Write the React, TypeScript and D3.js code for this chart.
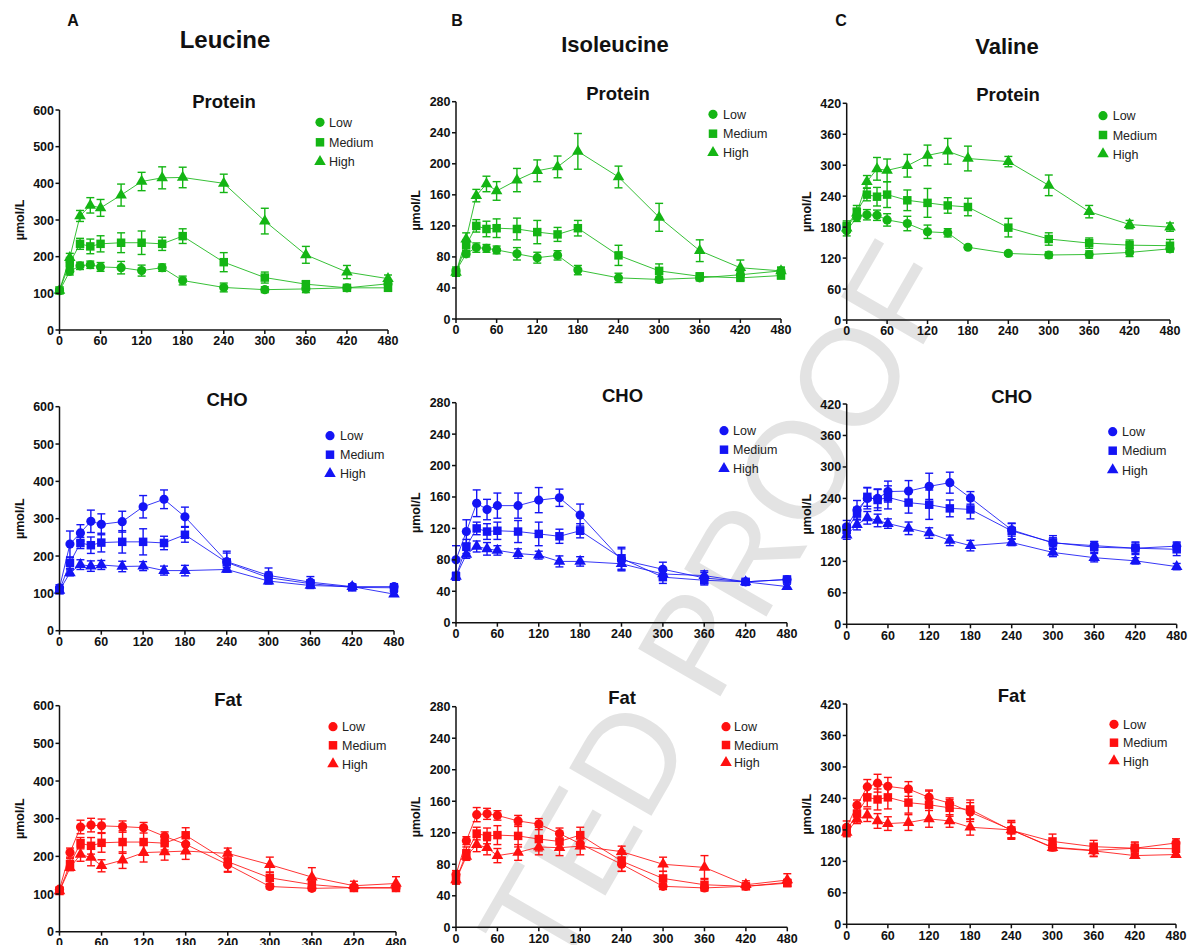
import React from 'react';
import * as d3 from 'd3';

// ---------- data ----------
const times = [0, 15, 30, 45, 60, 90, 120, 150, 180, 240, 300, 360, 420, 480];
const xTicks = [0, 60, 120, 180, 240, 300, 360, 420, 480];
const yTicksLeu = [0, 100, 200, 300, 400, 500, 600];
const yTicksIle = [0, 40, 80, 120, 160, 200, 240, 280];
const yTicksVal = [0, 60, 120, 180, 240, 300, 360, 420];
const seriesNames = ['Low', 'Medium', 'High'];
const aminoAcids = ['Leucine', 'Isoleucine', 'Valine'];
const panelLetters = ['A', 'B', 'C'];
const meals = ['Protein', 'CHO', 'Fat'];

// Leucine - Protein
const leuProLow = [107, 160, 175, 178, 172, 170, 162, 170, 135, 116, 110, 112, 115, 126];
const leuProLowErr = [5, 10, 10, 10, 12, 17, 15, 10, 12, 12, 8, 10, 5, 8];
const leuProMed = [108, 183, 235, 228, 235, 238, 238, 235, 256, 185, 143, 125, 115, 115];
const leuProMedErr = [5, 15, 15, 20, 22, 27, 32, 18, 20, 26, 15, 8, 6, 6];
const leuProHigh = [108, 197, 311, 340, 333, 368, 405, 415, 416, 400, 297, 205, 158, 140];
const leuProHighErr = [5, 12, 15, 21, 23, 30, 25, 30, 28, 25, 35, 23, 18, 10];

// Isoleucine - Protein
const ileProLow = [62, 84, 92, 91, 89, 84, 79, 82, 63, 53, 51, 53, 57, 62];
const ileProLowErr = [5, 4, 6, 5, 5, 8, 7, 6, 6, 6, 4, 4, 4, 4];
const ileProMed = [60, 95, 120, 116, 117, 116, 112, 109, 117, 82, 62, 55, 53, 56];
const ileProMedErr = [5, 7, 8, 10, 12, 14, 15, 9, 10, 13, 9, 4, 3, 4];
const ileProHigh = [60, 103, 159, 174, 165, 179, 191, 196, 216, 183, 131, 88, 66, 62];
const ileProHighErr = [5, 8, 8, 10, 12, 15, 14, 14, 23, 14, 18, 14, 10, 5];

// Valine - Protein
const valProLow = [173, 199, 204, 203, 194, 187, 171, 169, 141, 129, 126, 127, 131, 138];
const valProLowErr = [10, 8, 10, 10, 12, 14, 13, 8, 3, 3, 6, 7, 8, 6];
const valProMed = [182, 210, 243, 239, 243, 232, 227, 222, 219, 179, 157, 149, 145, 144];
const valProMedErr = [10, 12, 12, 18, 25, 20, 28, 15, 17, 18, 12, 10, 10, 12];
const valProHigh = [178, 207, 268, 293, 290, 299, 319, 327, 313, 307, 261, 210, 185, 180];
const valProHighErr = [8, 8, 12, 22, 22, 22, 20, 25, 24, 10, 20, 12, 8, 8];

// Leucine - CHO
const leuChoLow = [115, 232, 262, 293, 285, 292, 332, 352, 305, 185, 148, 130, 118, 118];
const leuChoLowErr = [8, 35, 22, 30, 28, 28, 30, 25, 26, 28, 20, 15, 6, 8];
const leuChoMed = [108, 182, 235, 229, 236, 238, 238, 235, 257, 183, 142, 126, 116, 115];
const leuChoMedErr = [5, 15, 15, 22, 25, 30, 35, 18, 20, 25, 15, 10, 5, 7];
const leuChoHigh = [108, 155, 177, 173, 176, 172, 173, 161, 161, 164, 133, 121, 118, 98];
const leuChoHighErr = [5, 8, 13, 14, 12, 14, 12, 12, 14, 5, 8, 8, 4, 5];

// Isoleucine - CHO
const ileChoLow = [80, 116, 152, 144, 149, 149, 156, 159, 137, 80, 68, 57, 52, 55];
const ileChoLowErr = [18, 15, 17, 13, 16, 16, 16, 11, 14, 14, 9, 7, 3, 3];
const ileChoMed = [59, 97, 120, 116, 117, 116, 113, 110, 117, 82, 58, 54, 52, 55];
const ileChoMedErr = [5, 9, 8, 10, 11, 14, 15, 9, 9, 14, 8, 6, 3, 4];
const ileChoHigh = [59, 87, 97, 94, 92, 88, 86, 78, 78, 75, 62, 60, 52, 46];
const ileChoHighErr = [5, 5, 7, 8, 6, 6, 5, 7, 6, 8, 6, 6, 3, 3];

// Valine - CHO
const valChoLow = [186, 218, 240, 240, 253, 254, 263, 270, 241, 180, 155, 150, 145, 149];
const valChoLowErr = [12, 18, 20, 18, 20, 20, 25, 20, 12, 12, 10, 8, 10, 8];
const valChoMed = [180, 211, 243, 237, 242, 232, 228, 221, 219, 178, 156, 147, 145, 143];
const valChoMedErr = [10, 12, 18, 20, 22, 20, 28, 16, 18, 15, 13, 10, 12, 12];
const valChoHigh = [170, 190, 203, 198, 192, 183, 174, 160, 150, 156, 137, 127, 121, 110];
const valChoHighErr = [8, 10, 12, 12, 9, 12, 10, 10, 10, 6, 8, 8, 6, 6];

// Leucine - Fat
const leuFatLow = [113, 210, 278, 283, 281, 279, 276, 253, 232, 178, 120, 115, 117, 117];
const leuFatLowErr = [6, 12, 18, 18, 18, 15, 14, 12, 20, 20, 6, 6, 4, 5];
const leuFatMed = [108, 180, 235, 228, 236, 238, 238, 235, 256, 186, 143, 125, 116, 116];
const leuFatMedErr = [5, 15, 15, 22, 25, 30, 35, 18, 20, 26, 15, 10, 6, 8];
const leuFatHigh = [108, 170, 205, 197, 175, 190, 210, 212, 214, 208, 178, 145, 122, 128];
const leuFatHighErr = [5, 8, 18, 22, 16, 22, 25, 22, 22, 14, 20, 25, 12, 18];

// Isoleucine - Fat
const ileFatLow = [67, 110, 143, 144, 142, 135, 131, 119, 106, 80, 52, 50, 52, 57];
const ileFatLowErr = [5, 5, 9, 7, 6, 7, 7, 7, 6, 9, 4, 3, 3, 4];
const ileFatMed = [60, 94, 119, 116, 117, 116, 112, 109, 117, 84, 62, 54, 52, 56];
const ileFatMedErr = [5, 8, 8, 10, 12, 14, 15, 9, 10, 13, 9, 8, 3, 4];
const ileFatHigh = [60, 90, 105, 101, 91, 95, 102, 101, 103, 96, 80, 76, 54, 60];
const ileFatHighErr = [5, 5, 9, 9, 9, 10, 10, 10, 11, 7, 9, 15, 5, 8];

// Valine - Fat
const valFatLow = [185, 227, 262, 269, 263, 258, 242, 231, 214, 180, 147, 141, 145, 155];
const valFatLowErr = [12, 10, 14, 17, 17, 14, 12, 10, 18, 15, 6, 12, 10, 8];
const valFatMed = [179, 211, 242, 238, 242, 232, 228, 222, 219, 179, 158, 148, 145, 144];
const valFatMedErr = [10, 12, 18, 20, 22, 20, 28, 16, 18, 15, 14, 12, 12, 12];
const valFatHigh = [175, 200, 208, 197, 192, 194, 201, 197, 185, 180, 146, 140, 131, 133];
const valFatHighErr = [8, 8, 12, 14, 13, 15, 16, 12, 15, 18, 6, 10, 5, 5];

// ---------- styling / layout ----------
const FONT = "'Liberation Sans', Arial, Helvetica, sans-serif";
const GREEN = '#14b514';
const BLUE = '#1414f5';
const RED = '#ff1010';

type PanelDef = {
  title: string;
  color: string;
  yTicks: number[];
  means: number[][];
  errs: number[][];
  x0: number; x1: number; y0: number; y1: number;
  titleX: number; titleY: number;
  legX: number; legTextX: number; legY: number[];
};

const colColors = [GREEN, BLUE, RED];
const colTicks = [yTicksLeu, yTicksIle, yTicksVal];

const panels: PanelDef[] = [
  // Row 1 - Protein
  { title: meals[0], color: colColors[0], yTicks: colTicks[0],
    means: [leuProLow, leuProMed, leuProHigh], errs: [leuProLowErr, leuProMedErr, leuProHighErr],
    x0: 59.5, x1: 388, y0: 330, y1: 110, titleX: 224, titleY: 108,
    legX: 320, legTextX: 329, legY: [122.3, 142.3, 161.7] },
  { title: meals[0], color: colColors[0], yTicks: colTicks[1],
    means: [ileProLow, ileProMed, ileProHigh], errs: [ileProLowErr, ileProMedErr, ileProHighErr],
    x0: 456, x1: 781, y0: 319, y1: 101.7, titleX: 618, titleY: 100,
    legX: 713, legTextX: 723, legY: [114.3, 133.7, 152.7] },
  { title: meals[0], color: colColors[0], yTicks: colTicks[2],
    means: [valProLow, valProMed, valProHigh], errs: [valProLowErr, valProMedErr, valProHighErr],
    x0: 846.7, x1: 1170, y0: 320, y1: 103.3, titleX: 1008, titleY: 101,
    legX: 1103, legTextX: 1112.7, legY: [115.7, 135, 154] },
  // Row 2 - CHO
  { title: meals[1], color: colColors[1], yTicks: colTicks[0],
    means: [leuChoLow, leuChoMed, leuChoHigh], errs: [leuChoLowErr, leuChoMedErr, leuChoHighErr],
    x0: 59.5, x1: 394, y0: 630.7, y1: 406.7, titleX: 227, titleY: 406,
    legX: 330, legTextX: 340, legY: [435.7, 454.7, 473.7] },
  { title: meals[1], color: colColors[1], yTicks: colTicks[1],
    means: [ileChoLow, ileChoMed, ileChoHigh], errs: [ileChoLowErr, ileChoMedErr, ileChoHighErr],
    x0: 456, x1: 787, y0: 622.7, y1: 402.7, titleX: 622.5, titleY: 401.7,
    legX: 724, legTextX: 733, legY: [430.7, 449.7, 468.7] },
  { title: meals[1], color: colColors[1], yTicks: colTicks[2],
    means: [valChoLow, valChoMed, valChoHigh], errs: [valChoLowErr, valChoMedErr, valChoHighErr],
    x0: 846.7, x1: 1176.7, y0: 624.3, y1: 404, titleX: 1011.7, titleY: 402.7,
    legX: 1112.7, legTextX: 1122, legY: [431.7, 450.7, 470] },
  // Row 3 - Fat
  { title: meals[2], color: colColors[2], yTicks: colTicks[0],
    means: [leuFatLow, leuFatMed, leuFatHigh], errs: [leuFatLowErr, leuFatMedErr, leuFatHighErr],
    x0: 59.5, x1: 396, y0: 931.7, y1: 705.7, titleX: 228, titleY: 705.7,
    legX: 333, legTextX: 342, legY: [726.7, 745.3, 764] },
  { title: meals[2], color: colColors[2], yTicks: colTicks[1],
    means: [ileFatLow, ileFatMed, ileFatHigh], errs: [ileFatLowErr, ileFatMedErr, ileFatHighErr],
    x0: 456, x1: 787.3, y0: 927.3, y1: 706.7, titleX: 622, titleY: 704.3,
    legX: 726, legTextX: 734, legY: [726.7, 745, 762.7] },
  { title: meals[2], color: colColors[2], yTicks: colTicks[2],
    means: [valFatLow, valFatMed, valFatHigh], errs: [valFatLowErr, valFatMedErr, valFatHighErr],
    x0: 846.7, x1: 1176, y0: 924.3, y1: 704, titleX: 1011.7, titleY: 701.7,
    legX: 1114, legTextX: 1123, legY: [724.3, 742.7, 761] },
];

const symbolTypes = [d3.symbolCircle, d3.symbolSquare, d3.symbolTriangle];
const symbolSizes = [66, 72, 58];

function Marker({ cx, cy, kind, color }: { cx: number; cy: number; kind: number; color: string }) {
  const path = d3.symbol().type(symbolTypes[kind]).size(symbolSizes[kind])() || '';
  return <path d={path} transform={`translate(${cx},${cy})`} fill={color} />;
}

function Panel({ p }: { p: PanelDef }) {
  const yMax = p.yTicks[p.yTicks.length - 1];
  const x = d3.scaleLinear().domain([0, 480]).range([p.x0, p.x1]);
  const y = d3.scaleLinear().domain([0, yMax]).range([p.y0, p.y1]);
  const line = d3.line<number>().x((_, i) => x(times[i])).y((v) => y(v));
  const cap = 4;
  return (
    <g>
      {/* lines */}
      {p.means.map((m, si) => (
        <path key={'l' + si} d={line(m) || ''} fill="none" stroke={p.color} strokeWidth={1} strokeOpacity={0.85} />
      ))}
      {/* error bars */}
      {p.means.map((m, si) => (
        <g key={'e' + si} stroke={p.color} strokeWidth={1.4}>
          {m.map((v, i) => {
            const e = p.errs[si][i];
            const xx = x(times[i]);
            const yt = y(v + e);
            const yb = y(v - e);
            return (
              <g key={i}>
                <line x1={xx} x2={xx} y1={yt} y2={yb} />
                <line x1={xx - cap} x2={xx + cap} y1={yt} y2={yt} />
                <line x1={xx - cap} x2={xx + cap} y1={yb} y2={yb} />
              </g>
            );
          })}
        </g>
      ))}
      {/* markers */}
      {p.means.map((m, si) => (
        <g key={'m' + si}>
          {m.map((v, i) => (
            <Marker key={i} cx={x(times[i])} cy={y(v)} kind={si} color={p.color} />
          ))}
        </g>
      ))}
      {/* axes */}
      <g stroke="#111" strokeWidth={1.5}>
        <line x1={p.x0} x2={p.x0} y1={p.y0 + 0.75} y2={p.y1} />
        <line x1={p.x0} x2={p.x1} y1={p.y0} y2={p.y0} />
        {p.yTicks.map((t) => (
          <line key={'yt' + t} x1={p.x0 - 4} x2={p.x0} y1={y(t)} y2={y(t)} />
        ))}
        {xTicks.map((t) => (
          <line key={'xt' + t} x1={x(t)} x2={x(t)} y1={p.y0} y2={p.y0 + 4} />
        ))}
      </g>
      <g fontFamily={FONT} fontWeight="bold" fontSize={12.5} fill="#111">
        {p.yTicks.map((t) => (
          <text key={'yl' + t} x={p.x0 - 5.5} y={y(t)} dy="0.36em" textAnchor="end">{t}</text>
        ))}
        {xTicks.map((t) => (
          <text key={'xl' + t} x={x(t)} y={p.y0 + 6} dy="0.74em" textAnchor="middle">{t}</text>
        ))}
      </g>
      {/* y label */}
      <text
        transform={`translate(${p.x0 - 40},${(p.y0 + p.y1) / 2}) rotate(-90)`}
        dy="0.35em"
        textAnchor="middle"
        fontFamily={FONT}
        fontWeight="bold"
        fontSize={12.5}
        fill="#111"
      >
        µmol/L
      </text>
      {/* title */}
      <text x={p.titleX} y={p.titleY} textAnchor="middle" fontFamily={FONT} fontWeight="bold" fontSize={18.5} fill="#111">
        {p.title}
      </text>
      {/* legend */}
      {seriesNames.map((n, si) => (
        <g key={'lg' + si}>
          <Marker cx={p.legX} cy={p.legY[si]} kind={si} color={p.color} />
          <text x={p.legTextX} y={p.legY[si]} dy="0.36em" fontFamily={FONT} fontSize={12.5} fill="#222">
            {n}
          </text>
        </g>
      ))}
    </g>
  );
}

const headerLayout = [
  { lx: 73, ly: 26, tx: 225, ty: 48, size: 24 },
  { lx: 457, ly: 26, tx: 615, ty: 52, size: 22 },
  { lx: 841, ly: 26, tx: 1007, ty: 54, size: 22 },
];

export default function App() {
  return (
    <svg
      width={1190}
      height={945}
      viewBox="0 0 1190 945"
      style={{ position: 'absolute', left: 0, top: 0, background: '#fff' }}
    >
      <rect width={1190} height={945} fill="#fff" />
      {/* watermark */}
      <text
        x={960}
        y={281}
        transform="rotate(-60 960 281)"
        textAnchor="end"
        fontFamily={FONT}
        fontSize={138}
        fill="#e3e3e3"
      >
        UNCORRECTED PROOF
      </text>
      {headerLayout.map((h, i) => (
        <g key={'h' + i} fontFamily={FONT} fontWeight="bold" fill="#111">
          <text x={h.lx} y={h.ly} textAnchor="middle" fontSize={16}>{panelLetters[i]}</text>
          <text x={h.tx} y={h.ty} textAnchor="middle" fontSize={h.size}>{aminoAcids[i]}</text>
        </g>
      ))}
      {panels.map((p, i) => (
        <Panel key={i} p={p} />
      ))}
    </svg>
  );
}
